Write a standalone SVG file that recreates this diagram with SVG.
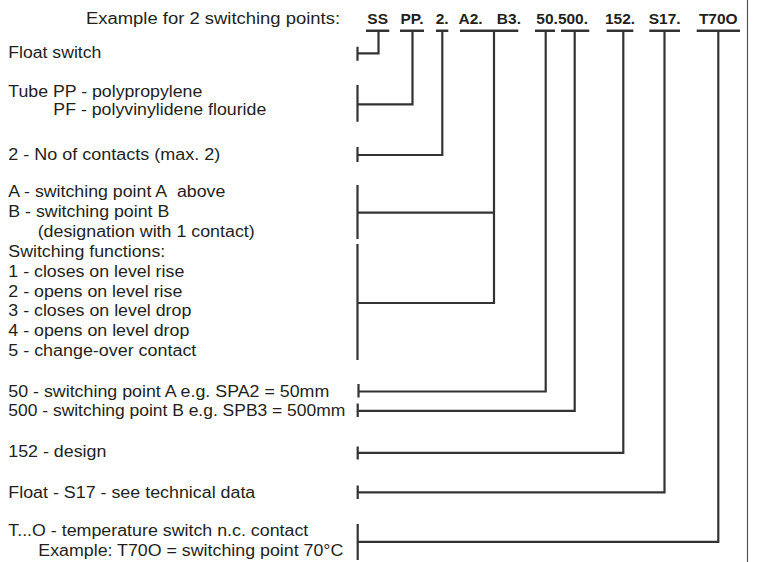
<svg xmlns="http://www.w3.org/2000/svg" width="758" height="562" viewBox="0 0 758 562">
<style>
text{font-family:"Liberation Sans",Arial,sans-serif;font-size:16px;fill:#231f20}
.b{font-weight:bold;font-size:15.5px;text-anchor:middle}
.ln{fill:none;stroke:#333;stroke-width:2.2;stroke-linecap:butt;stroke-linejoin:miter}
.ul{fill:none;stroke:#333;stroke-width:2.4}
.frame{stroke:#555;stroke-width:1.2}
</style>
<rect width="758" height="562" fill="#fff"/>
<line class="frame" x1="747.5" y1="0" x2="747.5" y2="562"/>
<g id="header">
<text x="86" y="24" textLength="254" lengthAdjust="spacingAndGlyphs">Example for 2 switching points:</text>
<text class="b" x="377.7" y="24">SS</text>
<text class="b" x="412" y="24">PP.</text>
<text class="b" x="442.2" y="24">2.</text>
<text class="b" x="470.6" y="24">A2.</text>
<text class="b" x="508.9" y="24">B3.</text>
<text class="b" x="562.2" y="24">50.500.</text>
<text class="b" x="620" y="24">152.</text>
<text class="b" x="664.7" y="24">S17.</text>
<text class="b" x="718.3" y="24">T70O</text>
<path class="ul" d="M366 30.8H389.3M400 30.8H424M436 30.8H448.3M460 30.8H518.3M535 30.8H555M561 30.8H589.3M606.7 30.8H633.3M649.3 30.8H680M696.7 30.8H740"/>
</g>
<g id="n-float">
<text x="8.3" y="58.3" textLength="93" lengthAdjust="spacingAndGlyphs">Float switch</text>
</g>
<g id="n-tube">
<text x="8.3" y="96.5" textLength="194" lengthAdjust="spacingAndGlyphs">Tube PP - polypropylene</text>
<text x="53.3" y="115.3" textLength="213" lengthAdjust="spacingAndGlyphs">PF - polyvinylidene flouride</text>
</g>
<g id="n-contacts">
<text x="8.3" y="160" textLength="212" lengthAdjust="spacingAndGlyphs">2 - No of contacts (max. 2)</text>
</g>
<g id="n-switching">
<text x="8.3" y="197.3" textLength="217" lengthAdjust="spacingAndGlyphs">A - switching point A&#160; above</text>
<text x="8.3" y="217.2" textLength="161" lengthAdjust="spacingAndGlyphs">B - switching point B</text>
<text x="37.7" y="237" textLength="217" lengthAdjust="spacingAndGlyphs">(designation with 1 contact)</text>
<text x="8.3" y="256.8" textLength="157" lengthAdjust="spacingAndGlyphs">Switching functions:</text>
<text x="8.3" y="276.7" textLength="176" lengthAdjust="spacingAndGlyphs">1 - closes on level rise</text>
<text x="8.3" y="296.5" textLength="174" lengthAdjust="spacingAndGlyphs">2 - opens on level rise</text>
<text x="8.3" y="316.3" textLength="183" lengthAdjust="spacingAndGlyphs">3 - closes on level drop</text>
<text x="8.3" y="336.2" textLength="181" lengthAdjust="spacingAndGlyphs">4 - opens on level drop</text>
<text x="8.3" y="356" textLength="188" lengthAdjust="spacingAndGlyphs">5 - change-over contact</text>
</g>
<g id="n-spa">
<text x="8.3" y="397.3" textLength="321" lengthAdjust="spacingAndGlyphs">50 - switching point A e.g. SPA2 = 50mm</text>
</g>
<g id="n-spb">
<text x="8.3" y="416" textLength="337" lengthAdjust="spacingAndGlyphs">500 - switching point B e.g. SPB3 = 500mm</text>
</g>
<g id="n-design">
<text x="8.3" y="456.5" textLength="98" lengthAdjust="spacingAndGlyphs">152 - design</text>
</g>
<g id="n-floatS17">
<text x="8.3" y="497.7" textLength="247" lengthAdjust="spacingAndGlyphs">Float - S17 - see technical data</text>
</g>
<g id="n-temp">
<text x="8.3" y="536" textLength="300" lengthAdjust="spacingAndGlyphs">T...O - temperature switch n.c. contact</text>
<text x="38.3" y="555.7" textLength="305" lengthAdjust="spacingAndGlyphs">Example: T70O = switching point 70°C</text>
</g>
<g id="connectors">
<path class="ln" d="M357.5 46.7V60.7M357.5 53.3H378.5V30.8"/>
<path class="ln" d="M357.5 85V121.7M357.5 104.3H412.5V30.8"/>
<path class="ln" d="M357.5 147V162M357.5 155H442.3V30.8"/>
<path class="ln" d="M357.5 185V239M357.5 244V360M357.5 212.7H494M357.5 303H494V30.8"/>
<path class="ln" d="M358.5 384V397.5M358.5 391.5H545.7V30.8"/>
<path class="ln" d="M357.7 403.5V417M357.7 410.8H574.7V30.8"/>
<path class="ln" d="M357.7 446.5V459.5M357.7 452.8H623.3V30.8"/>
<path class="ln" d="M357.7 485.5V499M357.7 492.3H664.5V30.8"/>
<path class="ln" d="M357.7 524V560M357.7 541.8H718.3V30.8"/>
</g>
</svg>
